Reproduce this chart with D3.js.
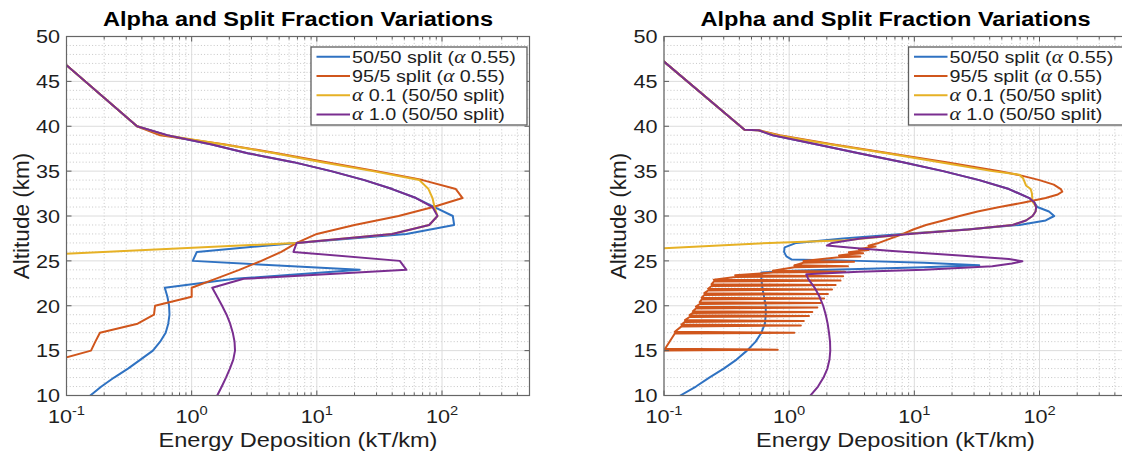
<!DOCTYPE html>
<html><head><meta charset="utf-8">
<script src="https://cdn.jsdelivr.net/npm/d3@7"></script>
<style>body{margin:0;background:#fff}svg{display:block}</style>
</head><body>
<svg id="chart" width="1122" height="457"></svg>
<script>
// ---------------- data ----------------
const chartTitle = "Alpha and Split Fraction Variations";
const xAxisLabel = "Energy Deposition (kT/km)";
const yAxisLabel = "Altitude (km)";
const xDomain = [0.1, 500];
const yDomain = [10, 50];
const xTickValues = [0.1, 1, 10, 100];
const xTickExponents = ["-1", "0", "1", "2"];
const yTickValues = [10, 15, 20, 25, 30, 35, 40, 45, 50];
const legendLabels = ["50/50 split (α 0.55)", "95/5 split (α 0.55)", "α 0.1 (50/50 split)", "α 1.0 (50/50 split)"];
const seriesColors = ["#2f72c2", "#d0561c", "#e6b125", "#7a2e90"];

// [altitude km, energy kT/km]
const leftBlue = [[47,0.0963],[40,0.366],[39,0.63],[38,1.42],[37,2.8],[36,6.5],[35,13],[34,24],[33,40],[32,62],[31,87],[30,122],[29,125],[28,52],[27,6.9],[26,1.1],[25,1.02],[24,22],[23,2.2],[22,0.61],[21,0.64],[20,0.66],[19,0.665],[18,0.65],[17,0.62],[16,0.56],[15,0.49],[14,0.39],[13,0.31],[12,0.24],[11,0.19],[10,0.155]];
const leftRed = [[47,0.0963],[40,0.366],[39,0.56],[38,1.8],[37,4.8],[36,12],[35,30],[34,70],[33,129],[32,146],[31,85],[30,45],[29,20],[28,10],[27,6.9],[26,5.2],[25,3.6],[24,2.4],[23,1.55],[22,1.0],[21,1.0],[20,0.51],[19,0.5],[18,0.37],[17,0.185],[16,0.17],[15,0.157],[14,0.086]];
const leftYellow = [[47,0.0963],[40,0.366],[39,0.62],[38,1.75],[37,4.6],[36,11],[35,28],[34,66],[33,78],[32,84],[31,87],[30,92],[29,79],[28,40],[27,6.8],[25,0.006]];
const leftPurple = [[47,0.0963],[40,0.366],[39,0.64],[38,1.42],[37,2.8],[36,6.5],[35,13],[34,24],[33,40],[32,62],[31,84],[30,92],[29,79],[28,40],[27,6.9],[26,6.5],[25,46],[24,52],[23,2.6],[22,1.46],[21,1.6],[20,1.75],[19,1.9],[18,2.03],[17,2.13],[16,2.2],[15,2.22],[14,2.15],[13,2.02],[12,1.88],[11,1.74],[10,1.6]];

const rightBlue = [[48,0.0855],[39.6,0.44],[39.55,0.57],[39,0.74],[38,1.64],[37,3.6],[36,8.1],[35,17],[34,33],[33,57],[32,83],[31.5,91],[31,96],[30.5,119],[30,131],[29.5,112],[29,69],[28.5,26],[28,8],[27.5,2.7],[27,1.14],[26.5,0.92],[26,0.91],[25.5,0.95],[25.15,1.05],[25,3.6],[24.8,12],[24.5,33],[24.3,12],[24.1,3.6],[23.9,1.07],[23.7,0.6],[23,0.6],[22,0.61],[21,0.63],[20,0.65],[19,0.65],[18,0.64],[17,0.6],[16,0.54],[15,0.46],[14,0.38],[13,0.3],[12,0.23],[11,0.18],[10,0.135]];
const rightRed = [[48,0.0855],[39.6,0.44],[39.55,0.57],[39,0.84],[38,2.2],[37,6.3],[36,18],[35,48],[34.5,72],[34,100],[33.5,130],[33,148],[32.7,152],[32.4,140],[32,112],[31.5,75],[31,48],[30.5,32],[30,23],[29.5,17],[29,12.4],[28.5,9.8],[28,8.1],[27.5,6.5],[27,5.2],
 [26.7,4.3],[26.6,4.9],[26.5,4.3],
 [26.3,3.6],[26.2,4.3],[26.1,3.6],
 [25.95,3.0],[25.85,3.9],[25.75,3.0],
 [25.6,2.5],[25.5,3.7],[25.4,2.5],
 [25.0,1.3],[24.9,3.3],[24.8,1.3],
 [24.5,1.1],[24.4,2.95],[24.3,1.1],
 [23.9,0.74],[23.8,2.8],[23.7,0.74],
 [23.4,0.37],[23.3,2.7],[23.2,0.37],
 [22.9,0.25],[22.8,2.57],[22.7,0.25],
 [22.4,0.24],[22.3,2.35],[22.2,0.24],
 [21.9,0.225],[21.8,2.2],[21.7,0.225],
 [21.4,0.21],[21.3,2.04],[21.2,0.21],
 [20.9,0.2],[20.8,1.9],[20.7,0.2],
 [20.4,0.193],[20.3,1.78],[20.2,0.193],
 [19.9,0.18],[19.8,1.68],[19.7,0.18],
 [19.4,0.17],[19.3,1.53],[19.2,0.17],
 [18.95,0.16],[18.85,1.44],[18.75,0.16],
 [18.4,0.147],[18.3,1.31],[18.2,0.147],
 [17.9,0.138],[17.8,1.24],[17.7,0.138],
 [17.1,0.122],[17.0,1.1],[16.9,0.122],
 [15.2,0.102],[15.1,0.81],[15.0,0.102],
 [14.6,0.05]];
const rightYellow = [[48,0.0855],[39.6,0.44],[39.55,0.57],[39,0.8],[38,2.1],[37,6],[36,16],[35,42],[34.6,69],[34.2,74],[33.8,76],[33.4,78],[33,85],[32.5,87],[32,87.5],[31.6,88],[31,94],[30.5,93],[30,88],[29.5,78],[29,61],[28.5,27],[28,8.5],[27.8,6.7],[27.3,2.8],[27,0.7],[26.4,0.1],[26,0.02]];
const rightPurple = [[48,0.0855],[39.6,0.44],[39.55,0.57],[39,0.74],[38,1.64],[37,3.6],[36,8.1],[35,17],[34,33],[33,57],[32,83],[31.5,91],[31,94],[30.5,93],[30,88],[29.5,78],[29,61],[28.5,27],[28,9.1],[27.5,3.7],[27,2.2],[26.7,2.0],[26.4,3.5],[26.1,6.7],[25.6,23],[25.2,57],[24.95,73],[24.7,60],[24.4,42],[24.0,12],[23.8,3.6],[23.5,1.37],[23,1.42],[22,1.6],[21,1.75],[20,1.87],[19,1.96],[18,2.03],[17,2.08],[16,2.12],[15,2.13],[14,2.1],[13,2.02],[12,1.88],[11,1.7],[10,1.48]];

// ---------------- layout / style ----------------
const S = 1.15;                 // horizontal text stretch of the original figure
const FONT = "'Liberation Sans', Arial, Helvetica, sans-serif";
const TEXT = "#1e1e1e";
const plotTop = 36.5, plotBottom = 395.5, plotW = 463;
const panels = [
  {id: "L", left: 66.5, series: [leftBlue, leftRed, leftYellow, leftPurple]},
  {id: "R", left: 664, series: [rightBlue, rightRed, rightYellow, rightPurple]}
];

const svg = d3.select("#chart");
svg.append("rect").attr("width", 1122).attr("height", 457).attr("fill", "#fff");

function sText(parent, x, y, opts) {
  const sx = opts.noStretch ? 1 : S;
  const g = parent.append("g").attr("transform",
    `translate(${x},${y}) scale(${sx},1)` + (opts.rotate ? ` rotate(${opts.rotate})` : ""));
  const t = g.append("text")
    .attr("font-family", FONT)
    .attr("font-size", opts.size)
    .attr("font-weight", opts.weight || "normal")
    .attr("text-anchor", opts.anchor || "start")
    .attr("fill", opts.fill || TEXT);
  if (opts.dy) t.attr("dy", opts.dy);
  return t;
}

panels.forEach(p => {
  const x = d3.scaleLog().domain(xDomain).range([p.left, p.left + plotW]);
  const y = d3.scaleLinear().domain(yDomain).range([plotBottom, plotTop]);
  const g = svg.append("g");
  const [x0, x1] = x.range();

  const xMinor = [];
  [0.1, 1, 10, 100].forEach(d => { for (let m = 2; m <= 9; m++) { const v = m * d; if (v <= xDomain[1] + 1e-9) xMinor.push(v); } });
  const yMinor = d3.range(yDomain[0], yDomain[1] + 1).filter(v => v % 5 !== 0);

  g.append("rect").attr("x", x0).attr("y", plotTop).attr("width", plotW).attr("height", plotBottom - plotTop).attr("fill", "#fff");

  // minor grid (dotted)
  const mg = g.append("g").attr("stroke", "#b9b9b9").attr("stroke-width", 0.8).attr("stroke-dasharray", "1,2.2");
  xMinor.forEach(v => mg.append("line").attr("x1", x(v)).attr("x2", x(v)).attr("y1", plotTop).attr("y2", plotBottom));
  yMinor.forEach(v => mg.append("line").attr("x1", x0).attr("x2", x1).attr("y1", y(v)).attr("y2", y(v)));
  // major grid
  const Mg = g.append("g").attr("stroke", "#dcdcdc").attr("stroke-width", 1);
  xTickValues.forEach(v => Mg.append("line").attr("x1", x(v)).attr("x2", x(v)).attr("y1", plotTop).attr("y2", plotBottom));
  yTickValues.forEach(v => Mg.append("line").attr("x1", x0).attr("x2", x1).attr("y1", y(v)).attr("y2", y(v)));

  const clipId = "clip" + p.id;
  svg.append("clipPath").attr("id", clipId).append("rect")
    .attr("x", x0).attr("y", plotTop).attr("width", plotW).attr("height", plotBottom - plotTop);

  const line = d3.line().x(d => x(d[1])).y(d => y(d[0]));
  const lg = g.append("g").attr("clip-path", `url(#${clipId})`);
  p.series.forEach((s, i) => {
    lg.append("path").attr("d", line(s)).attr("fill", "none")
      .attr("stroke", seriesColors[i]).attr("stroke-width", 2)
      .attr("stroke-linejoin", "round").attr("stroke-linecap", "round");
  });

  // ticks (inward, all sides)
  const tk = g.append("g").attr("stroke", "#5a5a5a").attr("stroke-width", 1);
  xTickValues.forEach(v => {
    tk.append("line").attr("x1", x(v)).attr("x2", x(v)).attr("y1", plotBottom).attr("y2", plotBottom - 5);
    tk.append("line").attr("x1", x(v)).attr("x2", x(v)).attr("y1", plotTop).attr("y2", plotTop + 5);
  });
  xMinor.forEach(v => {
    tk.append("line").attr("x1", x(v)).attr("x2", x(v)).attr("y1", plotBottom).attr("y2", plotBottom - 3);
    tk.append("line").attr("x1", x(v)).attr("x2", x(v)).attr("y1", plotTop).attr("y2", plotTop + 3);
  });
  yTickValues.forEach(v => {
    tk.append("line").attr("x1", x0).attr("x2", x0 + 5).attr("y1", y(v)).attr("y2", y(v));
    tk.append("line").attr("x1", x1).attr("x2", x1 - 5).attr("y1", y(v)).attr("y2", y(v));
  });

  g.append("rect").attr("x", x0).attr("y", plotTop).attr("width", plotW).attr("height", plotBottom - plotTop)
    .attr("fill", "none").attr("stroke", "#666").attr("stroke-width", 1.2);

  // y tick labels
  yTickValues.forEach(v => {
    sText(g, x0 - 6.5, y(v), {size: 18.8, anchor: "end", dy: "0.36em"}).text(v);
  });
  // x tick labels with exponents
  xTickValues.forEach((v, i) => {
    const t = sText(g, x(v), 423, {size: 18.8, anchor: "middle"});
    t.append("tspan").text("10");
    t.append("tspan").attr("dy", -8).attr("font-size", 12.8).text(xTickExponents[i]);
  });

  // axis labels & title
  sText(g, (x0 + x1) / 2, 447, {size: 20.5, anchor: "middle"}).text(xAxisLabel);
  sText(g, x0 - 38, (plotTop + plotBottom) / 2, {size: 22.5, anchor: "middle", rotate: -90, noStretch: true}).text(yAxisLabel);
  sText(g, (x0 + x1) / 2, 26, {size: 20.5, weight: "bold", anchor: "middle", fill: "#000"}).text(chartTitle);

  // legend
  const lx = x0 + 244.5, ly = 47, lw = 216, lh = 78;
  const leg = g.append("g");
  leg.append("rect").attr("x", lx).attr("y", ly).attr("width", lw).attr("height", lh)
    .attr("fill", "#fff").attr("stroke", "#5f5f5f").attr("stroke-width", 1.3);
  legendLabels.forEach((lab, i) => {
    const cy = ly + 9.8 + i * 19.2;
    leg.append("line").attr("x1", lx + 5.5).attr("x2", lx + 39).attr("y1", cy).attr("y2", cy)
      .attr("stroke", seriesColors[i]).attr("stroke-width", 2);
    const t = sText(leg, lx + 41, cy, {size: 17.2, dy: "0.35em"});
    const parts = lab.split("α");
    parts.forEach((part, k) => {
      if (k > 0) t.append("tspan").attr("font-family", "'Liberation Serif', 'DejaVu Serif', serif")
        .attr("font-style", "italic").attr("font-size", 18.5).text("α");
      if (part) t.append("tspan").text(part);
    });
  });
});
</script>
</body></html>
